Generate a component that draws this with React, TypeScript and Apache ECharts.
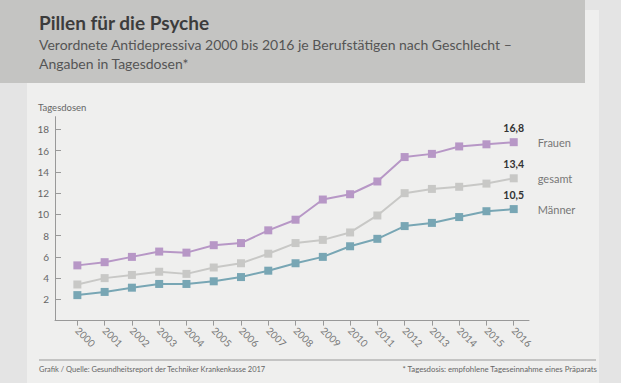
import React, { useEffect, useRef } from "react";
import * as echarts from "echarts";

const years = [2000, 2001, 2002, 2003, 2004, 2005, 2006, 2007, 2008, 2009, 2010, 2011, 2012, 2013, 2014, 2015, 2016];
const frauen = [5.2, 5.5, 6.0, 6.5, 6.4, 7.1, 7.3, 8.5, 9.5, 11.4, 11.9, 13.1, 15.4, 15.7, 16.4, 16.6, 16.8];
const gesamt = [3.4, 4.0, 4.3, 4.6, 4.4, 5.0, 5.4, 6.3, 7.3, 7.6, 8.3, 9.9, 12.0, 12.4, 12.6, 12.9, 13.4];
const maenner = [2.4, 2.7, 3.1, 3.45, 3.45, 3.7, 4.1, 4.7, 5.4, 6.0, 7.0, 7.7, 8.9, 9.2, 9.75, 10.3, 10.5];
const yTicks = [2, 4, 6, 8, 10, 12, 14, 16, 18];

const FONT = "Lato, 'Open Sans', sans-serif";

function buildSeries(name: string, values: number[], color: string) {
  const data = values.map((v, i) => {
    const point: any = { value: [years[i], v] };
    if (i === values.length - 1) {
      point.label = {
        show: true,
        position: "top",
        distance: 5,
        formatter: v.toFixed(1).replace(".", ","),
        color: "#333",
        fontWeight: "bold",
        fontSize: 10.5,
        fontFamily: FONT,
      };
    }
    return point;
  });
  return {
    name,
    type: "line",
    data,
    symbol: "rect",
    symbolSize: 8,
    showAllSymbol: true,
    lineStyle: { color, width: 2 },
    itemStyle: { color },
    emphasis: { disabled: true },
    endLabel: {
      show: true,
      formatter: "{a}",
      distance: 24,
      color: "#777",
      fontSize: 11,
      fontFamily: FONT,
    },
  };
}

export default function App() {
  const ref = useRef<HTMLDivElement>(null);
  useEffect(() => {
    if (!ref.current) return;
    const chart = echarts.init(ref.current, null, { renderer: "svg" });
    chart.setOption({
      animation: false,
      backgroundColor: "#e4e4e4",
      textStyle: { fontFamily: FONT },
      graphic: [
        { type: "rect", z: -10, shape: { x: 27, y: 10, width: 572, height: 373 }, style: { fill: "#efefee" } },
        { type: "rect", z: -9, shape: { x: 0, y: 0, width: 585, height: 83 }, style: { fill: "#c4c4c2" } },
        { type: "text", x: 39, y: 22, style: { text: "Pillen für die Psyche", fill: "#3c3c3c", font: `bold 19px ${FONT}`, textVerticalAlign: "middle" } },
        { type: "text", x: 39, y: 44, style: { text: "Verordnete Antidepressiva 2000 bis 2016 je Berufstätigen nach Geschlecht –", fill: "#555", font: `14px ${FONT}`, textVerticalAlign: "middle" } },
        { type: "text", x: 39, y: 63, style: { text: "Angaben in Tagesdosen*", fill: "#555", font: `14px ${FONT}`, textVerticalAlign: "middle" } },
        { type: "text", x: 38, y: 107, style: { text: "Tagesdosen", fill: "#666", font: `9.5px ${FONT}`, textVerticalAlign: "middle" } },
        { type: "line", shape: { x1: 39, y1: 360, x2: 596, y2: 360 }, style: { stroke: "#999", lineWidth: 1 } },
        { type: "text", x: 39, y: 369, style: { text: "Grafik / Quelle: Gesundheitsreport der Techniker Krankenkasse 2017", fill: "#666", font: `7.5px ${FONT}`, textVerticalAlign: "middle" } },
        { type: "text", x: 597, y: 369, style: { text: "* Tagesdosis: empfohlene Tageseinnahme eines Präparats", fill: "#666", font: `7.8px ${FONT}`, textAlign: "right", textVerticalAlign: "middle" } },
      ],
      grid: { left: 55, right: 92, top: 116.7, bottom: 62.4, containLabel: false },
      xAxis: {
        type: "value",
        min: 1999.18,
        max: 2016.56,
        splitLine: { show: false },
        axisLine: { show: true, lineStyle: { color: "#999", width: 1 } },
        axisTick: { show: true, length: 5, lineStyle: { color: "#999" }, customValues: years },
        axisLabel: {
          customValues: years,
          rotate: -45,
          margin: 8,
          color: "#777",
          fontSize: 10,
          fontFamily: FONT,
          formatter: (v: number) => String(Math.round(v)),
        },
      },
      yAxis: {
        type: "value",
        min: 0,
        max: 19.2,
        splitLine: { show: false },
        axisLine: { show: true, lineStyle: { color: "#999", width: 1 } },
        axisTick: { show: true, inside: true, length: 6, lineStyle: { color: "#999" }, customValues: yTicks },
        axisLabel: { customValues: yTicks, color: "#666", fontSize: 10, margin: 6, fontFamily: FONT },
      },
      series: [
        buildSeries("Frauen", frauen, "#b797c6"),
        buildSeries("gesamt", gesamt, "#c8c8c6"),
        buildSeries("Männer", maenner, "#78a6b4"),
      ],
    });
    return () => chart.dispose();
  }, []);
  return <div ref={ref} style={{ position: "fixed", left: 0, top: 0, width: 621, height: 383 }} />;
}
